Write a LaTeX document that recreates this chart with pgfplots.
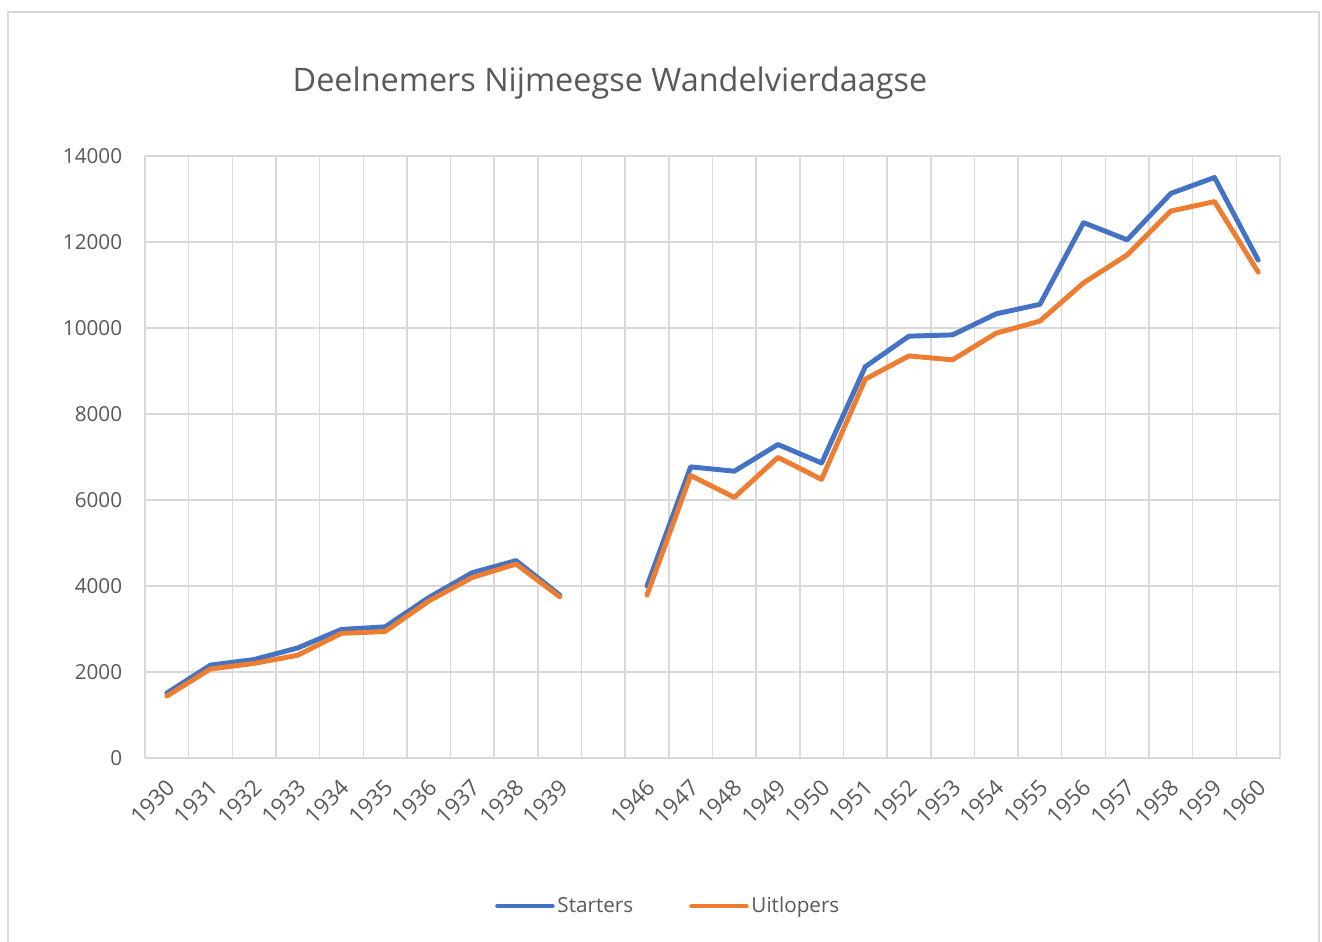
\documentclass[border=0pt]{standalone}
\usepackage{fontspec}
\setmainfont{Open Sans}
\usepackage{pgfplots}
\pgfplotsset{compat=1.18}
\definecolor{exblue}{HTML}{4472C4}
\definecolor{exorange}{HTML}{ED7D31}
\definecolor{gridgray}{HTML}{D9D9D9}
\definecolor{txtgray}{HTML}{595959}
\begin{document}
\begin{tikzpicture}
\useasboundingbox (0,0) rectangle (991.5pt,706.5pt);
\clip (0,0) rectangle (991.5pt,706.5pt);
\draw[gridgray, line width=1.1pt] (6pt,-20pt) rectangle (989.25pt,697.5pt);
\node[txtgray, font=\fontsize{24.3}{28}\selectfont] at (457.5pt,644.5pt) {Deelnemers Nijmeegse Wandelvierdaagse};
\begin{axis}[
  at={(108.75pt,138pt)}, anchor=south west,
  scale only axis, width=851.25pt, height=451.5pt,
  xmin=-0.5, xmax=25.5, ymin=0, ymax=14000,
  axis line style={draw=none},
  xtick={0,...,25},
  xticklabels={1930,1931,1932,1933,1934,1935,1936,1937,1938,1939,{},1946,1947,1948,1949,1950,1951,1952,1953,1954,1955,1956,1957,1958,1959,1960},
  minor xtick={-0.5,0.5,...,25.5},
  xminorgrids, ymajorgrids,
  grid style={gridgray, line width=1.1pt},
  minor grid style={gridgray, line width=1.1pt},
  major tick length=0pt, minor tick length=0pt,
  ytick={0,2000,...,14000},
  scaled y ticks=false,
  /pgf/number format/assume math mode=true,
  /pgf/number format/1000 sep={},
  yticklabel style={font=\fontsize{15.5}{18}\selectfont, text=txtgray, inner sep=0pt, xshift=-17pt},
  xticklabel style={font=\fontsize{16.8}{18}\selectfont, text=txtgray, inner sep=0pt, xshift=3pt, yshift=-19pt, rotate=45, anchor=east},
  unbounded coords=jump,
  legend style={at={(0.4613,-0.2458)}, anchor=center, draw=none, fill=none,
    legend columns=2, font=\fontsize{15.5}{18}\selectfont, text=txtgray,
    /tikz/every even column/.append style={column sep=40pt},
    nodes={inner xsep=2pt}},
  legend image code/.code={\draw[#1, line cap=round] (0pt,0pt) -- (41pt,0pt);},
]
\addplot[exblue, line width=3.7pt, line join=round, line cap=round] coordinates {
(0,1510) (1,2160) (2,2290) (3,2560) (4,2990) (5,3050) (6,3730) (7,4310) (8,4590) (9,3790)
(10,nan)
(11,4000) (12,6770) (13,6670) (14,7290) (15,6860) (16,9100) (17,9810) (18,9840) (19,10330) (20,10550)
(21,12450) (22,12050) (23,13130) (24,13500) (25,11580)
};
\addlegendentry{Starters}
\addplot[exorange, line width=3.7pt, line join=round, line cap=round] coordinates {
(0,1440) (1,2070) (2,2200) (3,2390) (4,2900) (5,2940) (6,3650) (7,4200) (8,4510) (9,3750)
(10,nan)
(11,3790) (12,6570) (13,6060) (14,6990) (15,6480) (16,8810) (17,9350) (18,9260) (19,9880) (20,10160)
(21,11050) (22,11700) (23,12720) (24,12940) (25,11300)
};
\addlegendentry{Uitlopers}
\end{axis}
\end{tikzpicture}
\end{document}
